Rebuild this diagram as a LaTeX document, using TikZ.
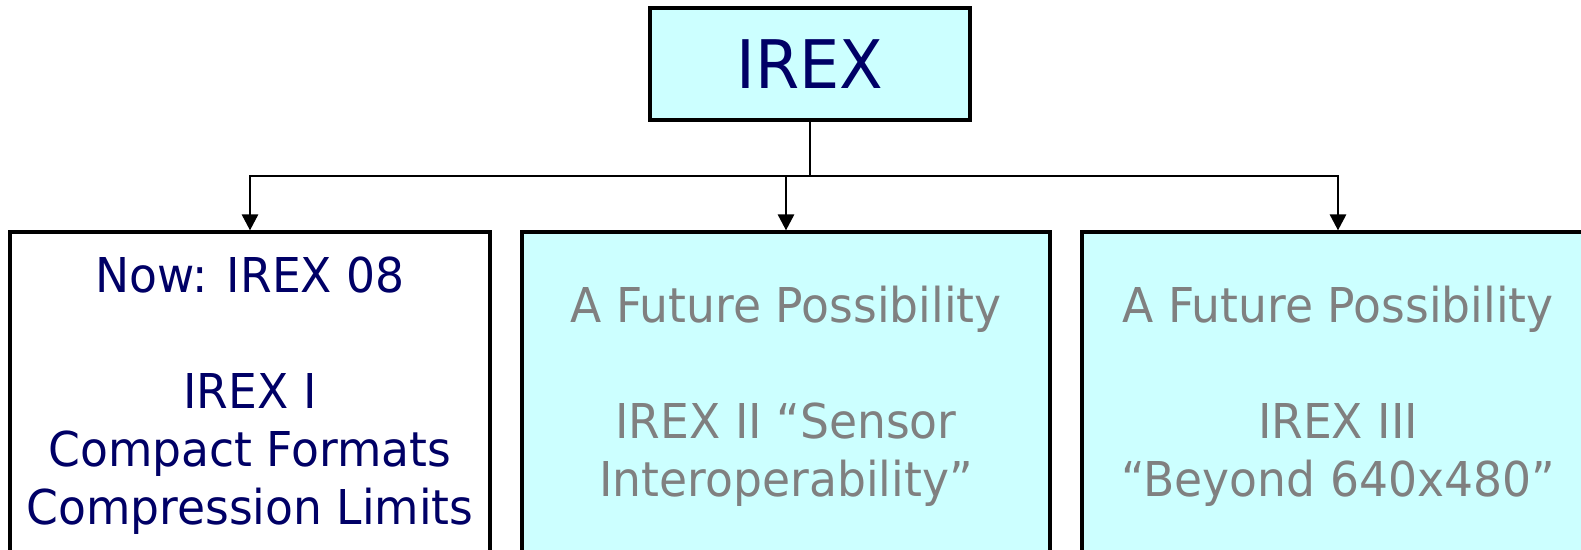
\documentclass[tikz,border=0pt]{standalone}
\usepackage{fontspec}
\usetikzlibrary{arrows.meta}
\newfontfamily\comicfont[FakeStretch=0.95]{DejaVu Sans}
\definecolor{boxcyan}{HTML}{CCFFFF}
\definecolor{navytext}{HTML}{000066}
\definecolor{graytext}{HTML}{808080}
\tikzset{
  treebox/.style={draw=black, line width=3.2pt, rectangle, inner sep=0pt, align=center,
    font=\comicfont\fontsize{48}{58}\selectfont},
  conn/.style={draw=black, line width=2.8pt},
  arr/.style={conn, -{Triangle[length=16pt,width=16pt]}}
}
\begin{document}
\begin{tikzpicture}[x=1pt,y=-1pt]
\useasboundingbox (0,0) rectangle (1581,549);
\node[treebox, fill=boxcyan, text=navytext, minimum width=320pt, minimum height=112pt,
  font=\comicfont\fontsize{67}{72}\selectfont] (irex) at (810,64) {IREX};
\node[treebox, fill=white, text=navytext, minimum width=480pt, minimum height=328pt] (b1) at (250,396)
  {Now: IREX 08\\[58pt] IREX I\\ Compact Formats\\ Compression Limits};
\node[treebox, fill=boxcyan, text=graytext, minimum width=528pt, minimum height=328pt] (b2) at (786,396)
  {A Future Possibility\\[58pt] IREX II “Sensor\\ Interoperability”};
\node[treebox, fill=boxcyan, text=graytext, minimum width=512pt, minimum height=328pt] (b3) at (1338,396)
  {A Future Possibility\\[58pt] IREX III\\ “Beyond 640x480”};
\coordinate (j) at (810,176);
\draw[conn] (irex.south) -- (j);
\draw[arr] (j) -| (b1.north);
\draw[arr] (j) -| (b2.north);
\draw[arr] (j) -| (b3.north);
\end{tikzpicture}
\end{document}
